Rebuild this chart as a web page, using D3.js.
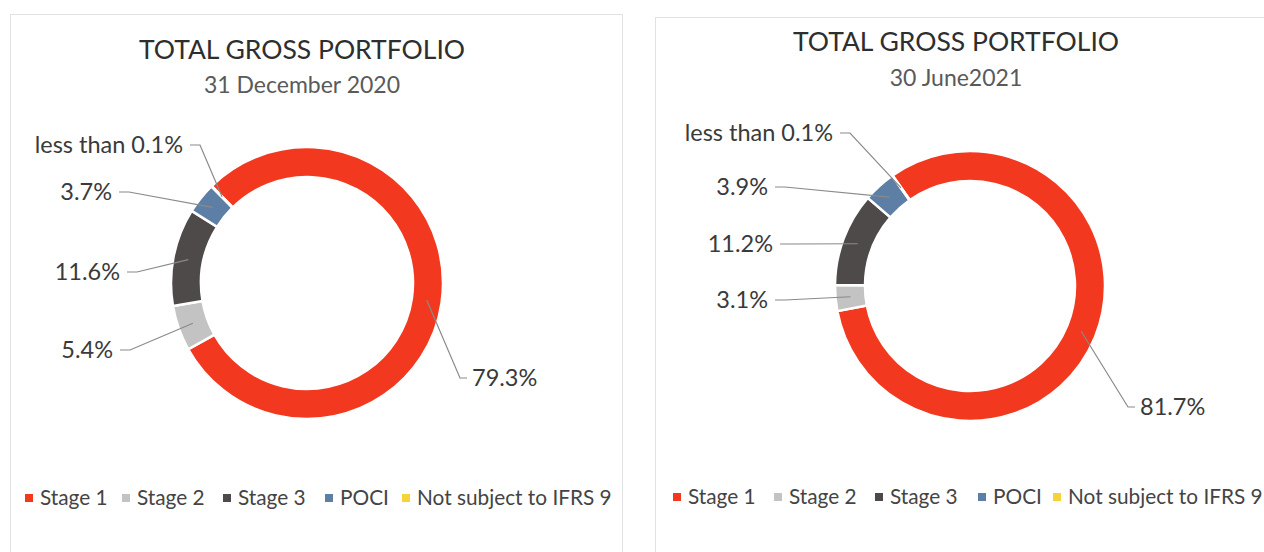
<!DOCTYPE html>
<html>
<head>
<meta charset="utf-8">
<script src="https://cdn.jsdelivr.net/npm/d3@7"></script>
<style>
  html, body { margin: 0; padding: 0; background: #ffffff; }
  svg { display: block; }
  text { font-family: Lato, "Open Sans", sans-serif; }
</style>
</head>
<body>
<svg id="chart" width="1264" height="552"></svg>
<script>
// ---- data ----
const categories = ["Stage 1", "Stage 2", "Stage 3", "POCI", "Not subject to IFRS 9"];
const valuesDec2020 = [79.3, 5.4, 11.6, 3.7, 0.05];
const valuesJun2021 = [81.7, 3.1, 11.2, 3.9, 0.05];
const labelsDec2020 = ["79.3%", "5.4%", "11.6%", "3.7%", "less than 0.1%"];
const labelsJun2021 = ["81.7%", "3.1%", "11.2%", "3.9%", "less than 0.1%"];
const chartTitles = ["TOTAL GROSS PORTFOLIO", "TOTAL GROSS PORTFOLIO"];
const chartSubtitles = ["31 December 2020", "30 June2021"];

// ---- styles / layout ----
const colors = ["#f2391f", "#c3c3c3", "#4f4a4a", "#5d7fa6", "#f7d33a"];

const panels = [
  {
    values: valuesDec2020, labels: labelsDec2020, title: chartTitles[0], subtitle: chartSubtitles[0],
    card: [10, 14, 612, 560], cx: 307, cy: 283, rOuter: 136, rInner: 106, startDeg: -44.5,
    titleX: 302, titleY: 50, subY: 85,
    labelPos: [[472, 378, "start"], [113, 350, "end"], [120, 272, "end"], [112, 192, "end"], [183, 145, "end"]],
    legendY: 498,
    legendTextX: [40, 137, 238, 340, 417]
  },
  {
    values: valuesJun2021, labels: labelsJun2021, title: chartTitles[1], subtitle: chartSubtitles[1],
    card: [655, 17, 700, 560], cx: 970, cy: 286, rOuter: 135, rInner: 105, startDeg: -35,
    titleX: 956, titleY: 42, subY: 78,
    labelPos: [[1140, 407, "start"], [768, 300, "end"], [773, 244, "end"], [768, 187, "end"], [833, 133, "end"]],
    legendY: 497,
    legendTextX: [688, 789, 890, 993, 1068]
  }
];

const svg = d3.select("#chart");

panels.forEach(p => {
  const g = svg.append("g");
  g.append("rect")
    .attr("x", p.card[0] + 0.5).attr("y", p.card[1] + 0.5)
    .attr("width", p.card[2]).attr("height", p.card[3])
    .attr("fill", "#ffffff").attr("stroke", "#e2e2e2").attr("stroke-width", 1);

  g.append("text")
    .attr("x", p.titleX).attr("y", p.titleY).attr("text-anchor", "middle")
    .attr("dy", "0.35em")
    .attr("font-size", 26.5).attr("fill", "#2e2e2e")
    .text(p.title);
  g.append("text")
    .attr("x", p.titleX).attr("y", p.subY).attr("text-anchor", "middle")
    .attr("dy", "0.35em")
    .attr("font-size", 23).attr("fill", "#5a5a5a")
    .text(p.subtitle);

  const start = p.startDeg * Math.PI / 180;
  const pie = d3.pie().sort(null).value(d => d)
    .startAngle(start).endAngle(start + 2 * Math.PI);
  const arcs = pie(p.values);
  const arc = d3.arc().innerRadius(p.rInner).outerRadius(p.rOuter);
  const midArc = d3.arc().innerRadius((p.rInner + p.rOuter) / 2 - 4).outerRadius((p.rInner + p.rOuter) / 2 + 4);

  const dg = g.append("g").attr("transform", `translate(${p.cx},${p.cy})`);
  dg.selectAll("path").data(arcs).enter().append("path")
    .attr("d", arc)
    .attr("fill", (d, i) => colors[i])
    .attr("stroke", "#ffffff").attr("stroke-width", 2.5);

  // leader lines + labels
  arcs.forEach((d, i) => {
    const [lx, ly, anchor] = p.labelPos[i];
    const c = midArc.centroid(d);
    const ex = p.cx + c[0], ey = p.cy + c[1];
    const sx = anchor === "end" ? lx + 7 : lx - 5;
    const kx = anchor === "end" ? lx + 17 : lx - 12;
    g.append("polyline")
      .attr("points", `${sx},${ly} ${kx},${ly} ${ex},${ey}`)
      .attr("fill", "none").attr("stroke", "#8a8a8a").attr("stroke-width", 1.2);
    g.append("text")
      .attr("x", lx).attr("y", ly).attr("dy", "0.35em")
      .attr("text-anchor", anchor)
      .attr("font-size", 23.5).attr("fill", "#3a3a3a")
      .text(p.labels[i]);
  });

  // legend
  const lg = g.append("g");
  categories.forEach((cat, i) => {
    const x = p.legendTextX[i];
    lg.append("rect")
      .attr("x", x - 15).attr("y", p.legendY - 4).attr("width", 8).attr("height", 8)
      .attr("fill", colors[i]);
    lg.append("text")
      .attr("x", x).attr("y", p.legendY).attr("dy", "0.35em")
      .attr("font-size", 20.8).attr("fill", "#444444")
      .text(cat);
  });
});
</script>
</body>
</html>
